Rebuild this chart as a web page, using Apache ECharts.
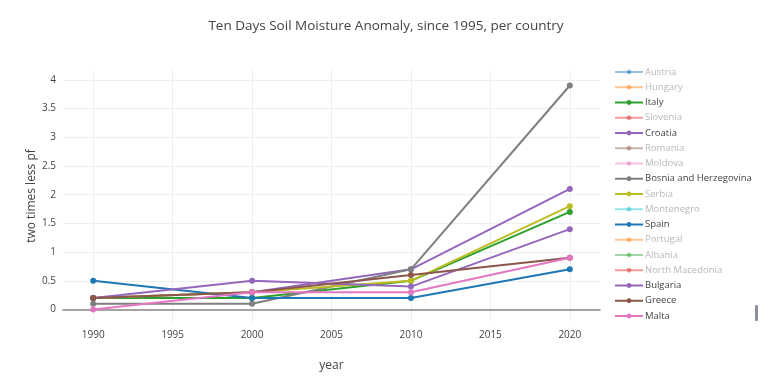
<!DOCTYPE html>
<html>
<head>
<meta charset="utf-8">
<script src="https://cdn.jsdelivr.net/npm/echarts@6/dist/echarts.min.js"></script>
<style>
html,body{margin:0;padding:0;background:#fff;}
#chart{width:772px;height:381px;}
</style>
</head>
<body>
<div id="chart"></div>
<script>
var years = [1990, 2000, 2010, 2020];
var countries = ['Austria','Hungary','Italy','Slovenia','Croatia','Romania','Moldova','Bosnia and Herzegovina','Serbia','Montenegro','Spain','Portugal','Albania','North Macedonia','Bulgaria','Greece','Malta'];
var colors = ['#1f77b4','#ff7f0e','#2ca02c','#d62728','#9467bd','#8c564b','#e377c2','#7f7f7f','#bcbd22','#17becf','#1f77b4','#ff7f0e','#2ca02c','#d62728','#9467bd','#8c564b','#e377c2'];
// Hidden (toggled-off) series in the reference: no visible values
var hidden = ['Austria','Hungary','Slovenia','Romania','Moldova','Montenegro','Portugal','Albania','North Macedonia'];
var italy = [0.2, 0.2, 0.5, 1.7];
var croatia = [0.2, 0.3, 0.7, 2.1];
var bosnia = [0.1, 0.1, 0.7, 3.9];
var serbia = [0.2, 0.3, 0.5, 1.8];
var spain = [0.5, 0.2, 0.2, 0.7];
var bulgaria = [0.2, 0.5, 0.4, 1.4];
var greece = [0.2, 0.3, 0.6, 0.9];
var malta = [0, 0.3, 0.3, 0.9];
var yTicks = [0, 0.5, 1, 1.5, 2, 2.5, 3, 3.5, 4];
var xTicks = [1990, 1995, 2000, 2005, 2010, 2015, 2020];

var values = {
  'Italy': italy, 'Croatia': croatia, 'Bosnia and Herzegovina': bosnia, 'Serbia': serbia,
  'Spain': spain, 'Bulgaria': bulgaria, 'Greece': greece, 'Malta': malta
};

var series = countries.map(function (name, i) {
  var v = values[name];
  return {
    name: name,
    type: 'line',
    data: v ? years.map(function (y, j) { return [y, v[j]]; }) : [],
    symbol: 'circle',
    symbolSize: 6,
    lineStyle: { width: 2, color: colors[i] },
    itemStyle: { color: colors[i] },
    emphasis: { disabled: true },
    animation: false
  };
});

var legendData = countries.map(function (name, i) {
  var isHidden = hidden.indexOf(name) >= 0;
  var faded = isHidden || name === 'Serbia';
  var item = { name: name, textStyle: { color: faded ? '#b8b8b8' : '#444' } };
  if (isHidden) {
    item.itemStyle = { opacity: 0.45 };
    item.lineStyle = { opacity: 0.45 };
  }
  return item;
});

var chart = echarts.init(document.getElementById('chart'), null, { renderer: 'canvas' });
chart.setOption({
  backgroundColor: '#fff',
  color: colors,
  animation: false,
  title: {
    text: 'Ten Days Soil Moisture Anomaly, since 1995, per country',
    left: 'center',
    top: 14,
    textStyle: { fontFamily: 'Open Sans', fontSize: 13.5, fontWeight: 'normal', color: '#444' }
  },
  legend: {
    orient: 'vertical',
    left: 614,
    top: 65,
    padding: 0,
    itemWidth: 28,
    itemHeight: 6,
    itemGap: 1.25,
    data: legendData,
    textStyle: { fontFamily: 'Open Sans', fontSize: 9.5, color: '#444', lineHeight: 14, padding: [0, 0, 0, -3] }
  },
  grid: { left: 63, right: 172, top: 70, bottom: 59, containLabel: false, outerBoundsMode: 'none' },
  xAxis: {
    type: 'value',
    min: 1988.1,
    max: 2021.9,
    name: 'year',
    nameLocation: 'middle',
    nameGap: 38,
    nameTextStyle: { fontFamily: 'Open Sans', fontSize: 12, color: '#444' },
    axisLine: { show: true, onZero: true, lineStyle: { color: '#888', width: 1.5 } },
    axisTick: { show: false, customValues: xTicks },
    axisLabel: { customValues: xTicks, margin: 8, fontFamily: 'Open Sans', fontSize: 10, color: '#444',
      formatter: function (v) { return String(v); } },
    splitLine: { show: true, lineStyle: { color: '#eeeeee', width: 1 } }
  },
  yAxis: {
    type: 'value',
    min: -0.2167,
    max: 4.17,
    name: 'two times less pf',
    nameLocation: 'middle',
    nameGap: 25,
    nameMoveOverlap: false,
    nameTextStyle: { fontFamily: 'Open Sans', fontSize: 12, color: '#444' },
    axisLine: { show: false },
    axisTick: { show: false, customValues: yTicks },
    axisLabel: { customValues: yTicks, margin: 7, fontFamily: 'Open Sans', fontSize: 10, color: '#444' },
    splitLine: { show: true, lineStyle: { color: '#eeeeee', width: 1 } }
  },
  graphic: [
    { type: 'rect', left: 755, top: 305, shape: { width: 3, height: 16, r: 1 }, style: { fill: '#8a8f99' } }
  ],
  series: series
});
</script>
</body>
</html>
